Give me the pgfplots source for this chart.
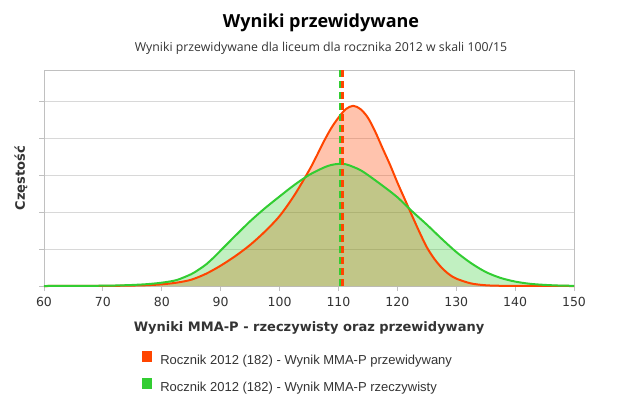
\documentclass[border=0pt]{standalone}
\usepackage{fontspec}
\usepackage{pgfplots}
\usepackage{pgfplotstable}
\pgfplotsset{compat=1.18}
\setmainfont{DejaVu Sans}
\newfontfamily\titlefont{Open Sans}
\newfontfamily\legendfont{Liberation Sans}
\definecolor{predC}{RGB}{255,69,0}
\definecolor{realC}{RGB}{50,205,50}
\definecolor{gridC}{RGB}{216,216,216}
\definecolor{frameC}{RGB}{192,192,192}
\definecolor{txtC}{RGB}{51,51,51}

% predicted scores (orange)
\pgfplotstableread{
x y
60 0
65 0.001
70 0.003
72.5 0.006
75 0.012
77.5 0.022
80 0.045
82.5 0.09
85 0.17
87.5 0.33
90 0.55
92.5 0.81
95 1.11
97.5 1.47
100 1.89
102.5 2.45
105 3.12
106.25 3.50
107.5 3.90
108.75 4.26
110 4.55
111.25 4.78
112.5 4.87
113.75 4.78
115 4.55
116.25 4.17
117.5 3.72
118.75 3.28
120 2.80
121.25 2.35
122.5 1.90
123.75 1.46
125 1.05
126.25 0.74
127.5 0.50
128.75 0.32
130 0.20
132.5 0.07
135 0.02
137.5 0.006
140 0.002
150 0
}\predicted

% real scores (green)
\pgfplotstableread{
x y
60 0
65 0.002
70 0.008
72.5 0.015
75 0.028
77.5 0.05
80 0.09
82.5 0.16
85 0.32
86.25 0.44
87.5 0.58
88.75 0.76
90 0.96
91.25 1.16
92.5 1.36
95 1.75
97.5 2.10
100 2.42
102.5 2.73
105 3.00
107.5 3.20
108.75 3.27
110 3.30
111.25 3.29
112.5 3.22
113.75 3.13
115 3.00
117.5 2.71
120 2.40
122.5 2.02
125 1.66
127.5 1.28
130 0.92
132.5 0.62
135 0.38
137.5 0.22
140 0.12
142.5 0.06
145 0.03
147.5 0.012
150 0.005
}\real

\begin{document}
\begin{tikzpicture}[x=1bp,y=1bp]
\path[use as bounding box] (0,0) rectangle (642,410);
\node[anchor=base, font=\titlefont\bfseries\fontsize{18bp}{20bp}\selectfont] at (321,383) {Wyniki przewidywane};
\node[anchor=base, font=\titlefont\fontsize{12.3bp}{14bp}\selectfont, text=txtC] at (321,359) {Wyniki przewidywane dla liceum dla rocznika 2012 w skali 100/15};
\begin{axis}[
  at={(44bp,124bp)}, anchor=south west,
  scale only axis, width=530bp, height=216bp,
  xmin=60, xmax=150, ymin=0, ymax=5.838,
  xtick={60,70,...,150}, ytick={0,1,...,5}, yticklabels={},
  tick pos=left, tick align=outside, major tick length=5bp,
  tick style={frameC, line width=0.8bp},
  axis line style={frameC, line width=0.8bp},
  ymajorgrids, grid style={gridC, line width=0.8bp},
  /pgf/number format/assume math mode=true,
  xticklabel style={font=\fontsize{12.5bp}{14bp}\selectfont, text=txtC, yshift=-3bp},
  xlabel={Wyniki MMA-P - rzeczywisty oraz przewidywany},
  xlabel style={at={(axis description cs:0.5,0)}, anchor=base, yshift=-45bp,
    font=\bfseries\fontsize{13bp}{15bp}\selectfont, text=txtC},
  ylabel={Częstość},
  ylabel style={at={(axis description cs:-0.0434,0.5)}, anchor=center,
    font=\bfseries\fontsize{13bp}{15bp}\selectfont, text=txtC},
  clip=false,
  legend style={at={(axis description cs:0.185,-0.30)}, anchor=north west,
    draw=none, fill=none, inner sep=0pt, row sep=11bp,
    font=\legendfont\fontsize{13bp}{15bp}\selectfont, text=txtC,
    nodes={inner sep=0pt, text height=10bp, text depth=3bp},
    /tikz/every odd column/.append style={column sep=8bp}},
  legend cell align=left,
]
\addplot[draw=none, fill=predC, fill opacity=0.32, smooth, forget plot] table {\predicted} \closedcycle;
\addplot[draw=none, fill=realC, fill opacity=0.3, smooth, forget plot] table {\real} \closedcycle;
\addplot[color=predC, line width=2bp, smooth,
  legend image code/.code={\fill[draw=none] (0bp,-1.5bp) rectangle (10bp,9.5bp);}] table {\predicted};
\addlegendentry{Rocznik 2012 (182) - Wynik MMA-P przewidywany}
\addplot[color=realC, line width=2bp, smooth,
  legend image code/.code={\fill[draw=none] (0bp,-1.5bp) rectangle (10bp,9.5bp);}] table {\real};
\addlegendentry{Rocznik 2012 (182) - Wynik MMA-P rzeczywisty}
\addplot[realC, line width=2.5bp, dash pattern=on 7bp off 4bp, forget plot] coordinates {(110.3,0) (110.3,5.838)};
\addplot[predC, line width=2.5bp, dash pattern=on 7bp off 4bp, forget plot] coordinates {(110.65,0) (110.65,5.838)};
\end{axis}
\end{tikzpicture}
\end{document}
